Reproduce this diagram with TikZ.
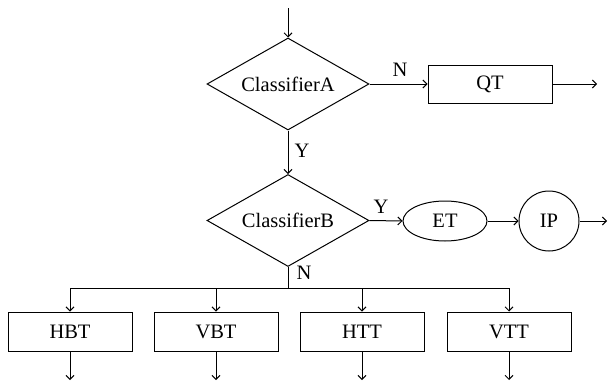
\documentclass[tikz,border=0pt]{standalone}
\usepackage{fontspec}
\setmainfont{Liberation Serif}
\usetikzlibrary{arrows.meta,shapes.geometric}
\begin{document}
\begin{tikzpicture}[x=1pt,y=-1pt,
  every node/.style={font=\fontsize{20.5}{24}\selectfont},
  link/.style={draw, line width=1pt},
  flow/.style={link, -{Straight Barb[length=4pt,width=8pt]}},
  decision/.style={diamond, draw, line width=1pt, inner sep=0pt, aspect=1.76,
                   minimum width=162pt, minimum height=92pt},
  process/.style={rectangle, draw, line width=1pt, inner sep=0pt,
                  minimum width=124pt, minimum height=39pt},
  terminal/.style={ellipse, draw, line width=1pt, inner sep=0pt,
                   minimum width=84pt, minimum height=40pt},
  roundstep/.style={circle, draw, line width=1pt, inner sep=0pt,
                    minimum size=60pt},
  tag/.style={inner sep=0pt}]

  % canvas
  \useasboundingbox (0,0) rectangle (611,383);

  % decisions
  \node[decision] (ca) at (288,84) {ClassifierA};
  \node[decision] (cb) at (288,220.5) {ClassifierB};

  % upper branch
  \node[process, minimum height=38pt] (qt) at (490,84) {QT};
  \node[terminal] (et) at (445,221) {ET};
  \node[roundstep] (ip) at (549,221) {IP};

  % lower row of processes
  \node[process] (hbt) at (70,331.5) {HBT};
  \node[process] (vbt) at (216,331.5) {VBT};
  \node[process] (htt) at (362,331.5) {HTT};
  \node[process] (vtt) at (509,331.5) {VTT};

  % free ends
  \coordinate (start) at (288,8);
  \coordinate (qtout) at (597,84);
  \coordinate (ipout) at (607,221);
  \coordinate (bus) at (288,288);
  \coordinate (o1) at (70,380);
  \coordinate (o2) at (216,380);
  \coordinate (o3) at (362,380);
  \coordinate (o4) at (509,380);

  % connectors
  \draw[flow] (start) -- (ca.north);
  \draw[flow] (ca.east) -- (qt.west);
  \draw[flow] (qt.east) -- (qtout);
  \draw[flow] (ca.south) -- (cb.north);
  \draw[flow] (cb.east) -- (et.west);
  \draw[flow] (et.east) -- (ip.west);
  \draw[flow] (ip.east) -- (ipout);

  \draw[link] (cb.south) -- (bus);
  \draw[link] (bus -| hbt) -- (bus -| vtt);
  \foreach \b in {hbt,vbt,htt,vtt}
    \draw[flow] (bus -| \b) -- (\b.north);
  \draw[flow] (hbt.south) -- (o1);
  \draw[flow] (vbt.south) -- (o2);
  \draw[flow] (htt.south) -- (o3);
  \draw[flow] (vtt.south) -- (o4);

  % branch labels
  \node[tag] (na) at (400,70) {N};
  \node[tag] (ya) at (302,151) {Y};
  \node[tag] (yb) at (381,207) {Y};
  \node[tag] (nb) at (304,273) {N};
\end{tikzpicture}
\end{document}
